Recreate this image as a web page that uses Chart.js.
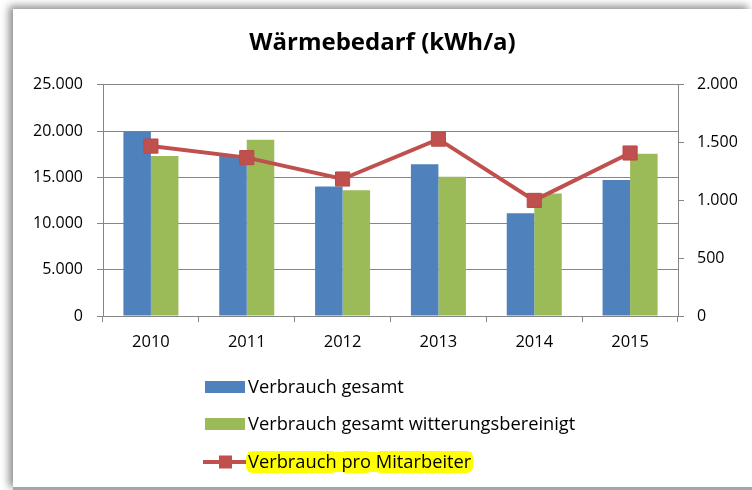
<!DOCTYPE html>
<html>
<head>
<meta charset="utf-8">
<script src="https://cdn.jsdelivr.net/npm/chart.js@4"></script>
<style>
  html, body { margin: 0; padding: 0; background: #fff; overflow: hidden; }
  #sheet {
    position: absolute; left: 13px; top: 9px;
    width: 739px; height: 478px;
    background: #fff;
    border-bottom: 3px solid #a6a6a6;
    box-shadow: -4px -3px 8px rgba(0,0,0,0.45);
  }
  #chart { display: block; }
</style>
</head>
<body>
<div id="sheet"><canvas id="chart" width="739" height="478"></canvas></div>
<script>
// Data
var years       = ['2010', '2011', '2012', '2013', '2014', '2015'];
var gesamt      = [19950, 17400, 14000, 16400, 11100, 14700];
var bereinigt   = [17300, 19050, 13600, 15050, 13250, 17550];
var proKopf     = [1470, 1370, 1185, 1530, 1000, 1410];
var leftTicks   = [0, 5000, 10000, 15000, 20000, 25000];
var rightTicks  = [0, 500, 1000, 1500, 2000];

var labelGesamt    = 'Verbrauch gesamt';
var labelBereinigt = 'Verbrauch gesamt witterungsbereinigt';
var labelProKopf   = 'Verbrauch pro Mitarbeiter';

// 25000 -> "25.000"
function de(n) {
  return String(n).replace(/\B(?=(\d{3})+(?!\d))/g, '.');
}

Chart.defaults.font.family = '"Open Sans", sans-serif';
Chart.defaults.color = '#000';

var gridGray = '#868686';

// ── vertical legend, drawn below the axis ─────────
var legendBelow = {
  id: 'legendBelow',
  afterDraw: function(chart) {
    var ctx = chart.ctx;
    var ds = chart.data.datasets;
    var x0 = 192, textX = 235, rowY = [378, 415, 453];
    ctx.save();
    ctx.font = '18.3px "Open Sans", sans-serif';
    ctx.textBaseline = 'middle';
    for (var i = 0; i < ds.length; i++) {
      var y = rowY[i];
      if (ds[i].type === 'line') {
        // yellow highlight behind the text, a little bulge per word
        var words = ds[i].label.split(' ');
        var full = ctx.measureText(ds[i].label).width;
        var wx = textX;
        var space = ctx.measureText(' ').width;
        ctx.fillStyle = '#ffff00';
        ctx.fillRect(textX, y - 10, full, 20);
        for (var w = 0; w < words.length; w++) {
          var ww = ctx.measureText(words[w]).width;
          ctx.beginPath();
          ctx.roundRect(wx - 2, y - 11, ww + 4, 22, 7);
          ctx.fill();
          wx += ww + space;
        }
        ctx.strokeStyle = ds[i].borderColor;
        ctx.lineWidth = 4;
        ctx.beginPath();
        ctx.moveTo(x0 - 2, y);
        ctx.lineTo(x0 + 41, y);
        ctx.stroke();
        ctx.fillStyle = ds[i].backgroundColor;
        ctx.fillRect(x0 + 14, y - 6.5, 13, 13);
      } else {
        ctx.fillStyle = ds[i].backgroundColor;
        ctx.fillRect(x0, y - 6, 40, 12);
      }
      ctx.fillStyle = '#000';
      ctx.fillText(ds[i].label, textX, y + 1);
    }
    ctx.restore();
  }
};

new Chart(document.getElementById('chart'), {
  type: 'bar',
  data: {
    labels: years,
    datasets: [{
      label: labelGesamt,
      data: gesamt,
      backgroundColor: '#4f81bd',
      yAxisID: 'y',
      order: 1,
      categoryPercentage: 0.574,
      barPercentage: 1
    }, {
      label: labelBereinigt,
      data: bereinigt,
      backgroundColor: '#9bbb59',
      yAxisID: 'y',
      order: 1,
      categoryPercentage: 0.574,
      barPercentage: 1
    }, {
      type: 'line',
      label: labelProKopf,
      data: proKopf,
      yAxisID: 'y1',
      order: 0,
      borderColor: '#c0504d',
      backgroundColor: '#c0504d',
      borderWidth: 4,
      tension: 0,
      pointStyle: 'rect',
      pointRadius: 10,
      pointBorderWidth: 1,
      pointBorderColor: '#b84b48',
      pointBackgroundColor: '#c0504d'
    }]
  },
  options: {
    responsive: false,
    animation: false,
    devicePixelRatio: 1,
    layout: { padding: { left: 0, right: 0, top: 0, bottom: 131 } },
    plugins: {
      legend: { display: false },
      tooltip: { enabled: false },
      title: {
        display: true,
        text: 'Wärmebedarf (kWh/a)',
        color: '#000',
        font: { size: 24, weight: 'bold' },
        padding: { top: 20, bottom: 27 }
      }
    },
    scales: {
      x: {
        grid: {
          drawOnChartArea: false,
          drawTicks: true,
          tickLength: 6,
          color: gridGray
        },
        border: { color: gridGray },
        ticks: { font: { size: 16.5 }, padding: 10, color: '#000' },
        afterFit: function(s) { s.height = 40; }
      },
      y: {
        position: 'left',
        min: leftTicks[0],
        max: leftTicks[leftTicks.length - 1],
        ticks: {
          stepSize: leftTicks[1] - leftTicks[0],
          font: { size: 16 },
          padding: 14,
          color: '#000',
          callback: function(v) { return de(v); }
        },
        grid: { color: gridGray, tickLength: 6 },
        border: { color: gridGray },
        afterFit: function(s) { s.width = 90; }
      },
      y1: {
        position: 'right',
        min: rightTicks[0],
        max: rightTicks[rightTicks.length - 1],
        ticks: {
          stepSize: rightTicks[1] - rightTicks[0],
          font: { size: 16 },
          padding: 13,
          color: '#000',
          callback: function(v) { return de(v); }
        },
        grid: { drawOnChartArea: false, color: gridGray, tickLength: 6 },
        border: { color: gridGray },
        afterFit: function(s) { s.width = 74; }
      }
    }
  },
  plugins: [legendBelow]
});
</script>
</body>
</html>
